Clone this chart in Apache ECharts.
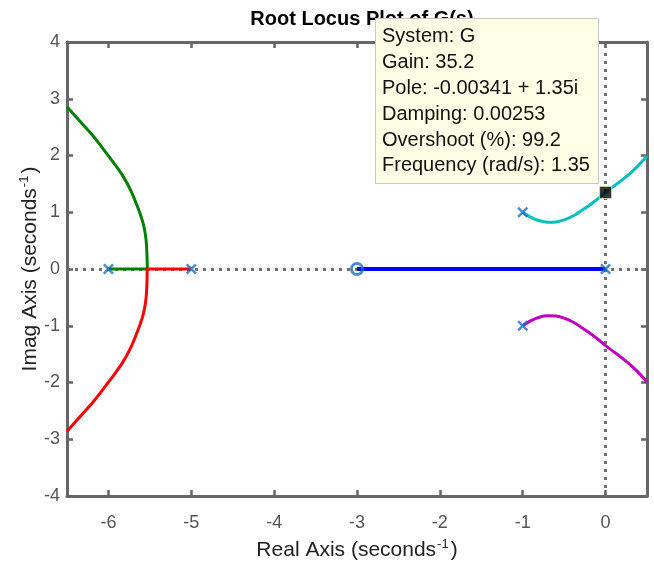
<!DOCTYPE html>
<html><head><meta charset="utf-8">
<script src="https://cdn.jsdelivr.net/npm/echarts@6/dist/echarts.min.js"></script>
<style>html,body{margin:0;padding:0;background:#fff}#c{width:654px;height:562px}</style>
</head><body><div id="c"></div>
<script>
// ---- data ----
var xTicks = [-6, -5, -4, -3, -2, -1, 0];
var yTicks = [-4, -3, -2, -1, 0, 1, 2, 3, 4];
var polesX = [-6, -5, -1, -1, 0];
var polesY = [0, 0, 1, -1, 0];
var zerosX = [-3];
var zerosY = [0];
var greenX = [-6, -5.53, -5.535, -5.545, -5.565, -5.594, -5.65, -5.735, -5.83, -5.936, -6.05, -6.177, -6.33, -6.5];
var greenY = [0, 0, 0.25, 0.5, 0.7, 0.87, 1.1, 1.4, 1.65, 1.87, 2.09, 2.33, 2.58, 2.86];
var redX = [-5, -5.53, -5.535, -5.545, -5.565, -5.594, -5.65, -5.735, -5.83, -5.936, -6.05, -6.177, -6.33, -6.5];
var redY = [0, 0, -0.25, -0.5, -0.7, -0.87, -1.1, -1.4, -1.65, -1.87, -2.09, -2.33, -2.58, -2.86];
var blueX = [-3, 0];
var blueY = [0, 0];
var cyanX = [-1.0, -0.9, -0.8, -0.7, -0.6, -0.5, -0.4, -0.3, -0.2, -0.1, 0.0, 0.1, 0.2, 0.3, 0.4, 0.5];
var cyanY = [1.0, 0.91, 0.85, 0.825, 0.83, 0.865, 0.93, 1.02, 1.12, 1.23, 1.35, 1.46, 1.57, 1.69, 1.83, 1.99];
var magX = [-1.0, -0.9, -0.8, -0.7, -0.6, -0.5, -0.4, -0.3, -0.2, -0.1, 0.0, 0.1, 0.2, 0.3, 0.4, 0.5];
var magY = [-1.0, -0.91, -0.85, -0.825, -0.83, -0.865, -0.93, -1.02, -1.12, -1.23, -1.35, -1.46, -1.57, -1.69, -1.83, -1.99];
var cursorX = [0];
var cursorY = [1.35];
var infoLines = ['System: G', 'Gain: 35.2', 'Pole: -0.00341 + 1.35i', 'Damping: 0.00253', 'Overshoot (%): 99.2', 'Frequency (rad/s): 1.35'];
var titleText = 'Root Locus Plot of G(s)';

function zip(a, b) { return a.map(function (v, i) { return [v, b[i]]; }); }

var FONT = 'Liberation Sans, Arial, sans-serif';
var axisColor = '#666666';
var lineW = 3;

var supRich = { sup: { fontSize: 13, fontFamily: FONT, color: '#222', verticalAlign: 'top', lineHeight: 12, padding: [0, 2, 0, 1] } };

function xAx(pos, labels) {
  return {
    type: 'value', position: pos, min: -6.5, max: 0.5,
    axisLine: { show: true, onZero: false, lineStyle: { color: axisColor, width: 3 } },
    axisTick: { show: true, inside: true, length: 6, customValues: xTicks, lineStyle: { color: axisColor, width: 2.5 } },
    axisLabel: { show: labels, customValues: xTicks, margin: 18, color: '#555', fontSize: 18, fontFamily: FONT },
    splitLine: { show: false },
    name: labels ? 'Real Axis (seconds{sup|-1})' : '',
    nameLocation: 'middle', nameGap: 42, nameMoveOverlap: false,
    nameTextStyle: { color: '#222', fontSize: 21, fontFamily: FONT, lineHeight: 24, rich: supRich }
  };
}
function yAx(pos, labels) {
  return {
    type: 'value', position: pos, min: -4, max: 4, interval: 1,
    axisLine: { show: true, onZero: false, lineStyle: { color: axisColor, width: 3 } },
    axisTick: { show: true, inside: true, length: 6, customValues: yTicks, lineStyle: { color: axisColor, width: 2.5 } },
    axisLabel: { show: labels, customValues: yTicks, margin: 7, color: '#555', fontSize: 18, fontFamily: FONT },
    splitLine: { show: false },
    name: labels ? 'Imag Axis (seconds{sup|-1})' : '',
    nameLocation: 'middle', nameGap: 25, nameRotate: 90, nameMoveOverlap: false,
    nameTextStyle: { color: '#222', fontSize: 21, fontFamily: FONT, lineHeight: 24, rich: supRich }
  };
}

function curve(x, y, color, w) {
  return { type: 'line', data: zip(x, y), showSymbol: false, symbol: 'none', smooth: 0.3, z: 3,
    lineStyle: { color: color, width: w || lineW }, animation: false, silent: true };
}

var xPath = 'path://M1.6,0 L5,3.4 L8.4,0 L10,1.6 L6.6,5 L10,8.4 L8.4,10 L5,6.6 L1.6,10 L0,8.4 L3.4,5 L0,1.6 Z';

var option = {
  animation: false,
  backgroundColor: '#ffffff',
  title: { text: titleText, left: 357, top: 4, textAlign: 'center', z: 1,
    textStyle: { fontSize: 20, fontWeight: 'bold', color: '#000', fontFamily: FONT } },
  grid: { left: 67, right: 7, top: 42, bottom: 66, containLabel: false, outerBoundsMode: 'none' },
  xAxis: [xAx('bottom', true), xAx('top', false)],
  yAxis: [yAx('left', true), yAx('right', false)],
  series: [
    { type: 'line', data: [], z: 1, silent: true,
      markLine: { silent: true, z: 1, symbol: 'none', label: { show: false }, animation: false,
        lineStyle: { color: '#707070', width: 3, type: [3, 5] },
        data: [{ xAxis: 0 }, { yAxis: 0 }] } },
    curve(greenX, greenY, '#008000'),
    curve(redX, redY, '#ff0000'),
    curve(blueX, blueY, '#0000ff', 4),
    curve(cyanX, cyanY, '#00bfbf'),
    curve(magX, magY, '#bf00bf'),
    { type: 'scatter', data: zip(polesX, polesY), symbol: xPath, symbolSize: 11, z: 5,
      itemStyle: { color: '#1a6fc4' }, silent: true },
    { type: 'scatter', data: zip(zerosX, zerosY), symbol: 'circle', symbolSize: 11, z: 5,
      itemStyle: { color: 'rgba(255,255,255,0)', borderColor: '#1a6fc4', borderWidth: 3 }, silent: true },
    { type: 'scatter', data: zip(cursorX, cursorY), symbol: 'rect', symbolSize: 12, z: 6,
      itemStyle: { color: '#000', borderColor: '#e8e4b0', borderWidth: 1 }, silent: true }
  ],
  graphic: [
    { type: 'rect', left: 375, top: 18, z: 100, zlevel: 1,
      shape: { x: 0, y: 0, width: 223, height: 165 },
      style: { fill: '#ffffe6', stroke: '#c8c8c8', lineWidth: 1 } },
    { type: 'text', left: 382, top: 24, z: 101, zlevel: 1,
      style: { text: infoLines.join('\n'), font: '20px ' + FONT, lineHeight: 25.8, fill: '#111' } }
  ]
};

var chart = echarts.init(document.getElementById('c'), null, { renderer: 'canvas' });
chart.setOption(option);
</script>
</body></html>
